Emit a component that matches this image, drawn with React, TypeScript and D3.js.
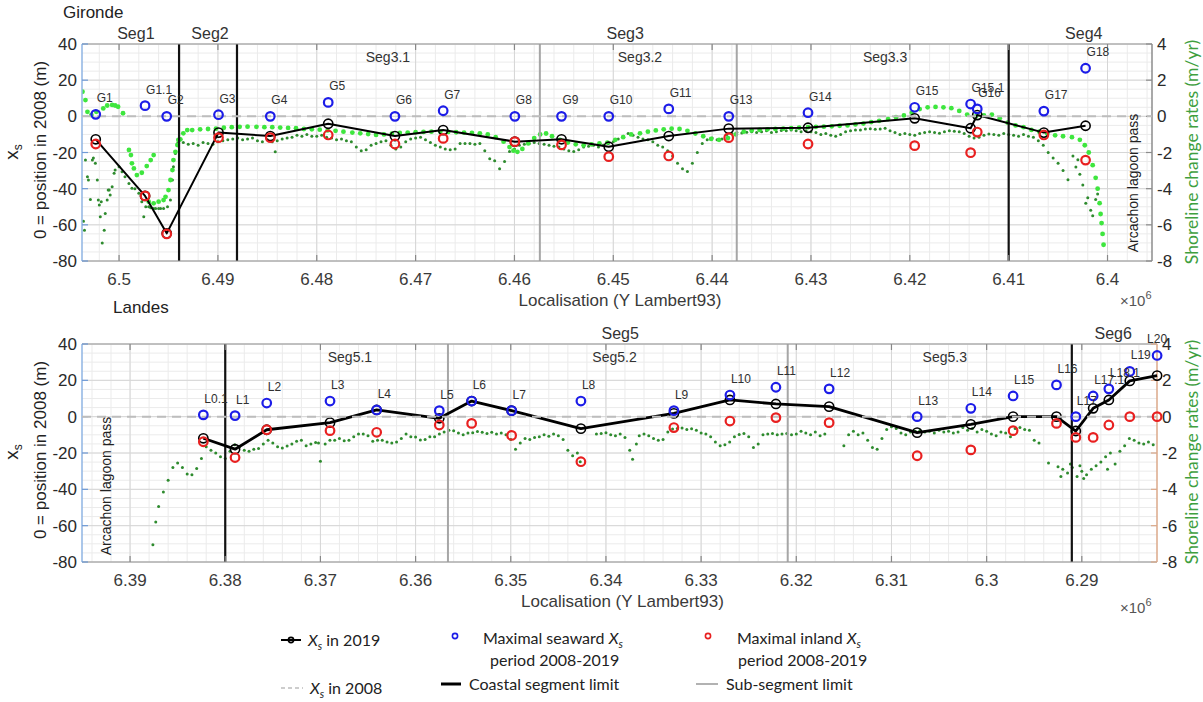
import React from "react";
import * as d3 from "d3";

type Pt = [number, number];

// ---------- Gironde (top panel) ----------
const gNames = ["G1","G1.1","G2","G3","G4","G5","G6","G7","G8","G9","G10","G11","G13","G14","G15","G15.1","G16","G17","G18"];
const gPos = [6502.36,6497.37,6495.18,6489.94,6484.70,6478.84,6472.09,6467.21,6459.96,6455.24,6450.46,6444.39,6438.32,6430.30,6419.51,6413.85,6413.18,6406.44,6402.22];
const gXs2019 = [-12.7,-44,-64.7,-9.0,-10.9,-4.1,-10.9,-7.6,-14,-12.7,-16.8,-10.9,-6.8,-6.3,-1.1,-6.6,0.7,-9.0,-5.2];
const gSeaward = [1.1,5.9,0,0.9,0,7.7,0,3.1,0,0,0,4.1,0,2.0,5.0,6.8,4.1,2.9,26.6];
const gInland = [-15.3,-44,-65,-11.8,-11.8,-10.3,-15.3,-12.2,-14,-15.8,-22.3,-21.9,-11.8,-15.3,-16.2,-20.1,-8.7,-10.3,-24.2];
const gSegLimits = [6493.93, 6488.07, 6410.0];
const gSubLimits = [6457.43, 6437.51];
const gSegLabels = ["Seg1","Seg2","Seg3","Seg4"];
const gSegLabelPos = [6498.3, 6490.8, 6448.8, 6402.4];
const gSubLabels = ["Seg3.1","Seg3.2","Seg3.3"];
const gSubLabelPos = [6472.8, 6447.3, 6422.5];
const gTicks = [6500,6490,6480,6470,6460,6450,6440,6430,6420,6410,6400];

// light green (smoothed rates, m/yr) [Y km, rate]
const gRateSmooth: Pt[] = [
[6503.7,1.36],[6503.4,0.9],[6503.2,0.25],[6502.8,0.07],[6502.3,0.25],[6501.6,0.44],[6501.2,0.6],[6500.7,0.63],[6500.4,0.6],[6500.1,0.53],[6499.6,0.17],
[6499.0,-1.86],[6498.8,-2.14],[6498.7,-2.6],[6498.5,-2.88],[6498.2,-3.25],[6497.7,-3.12],[6497.2,-2.75],[6496.8,-2.42],[6496.5,-2.14],
[6497.0,-4.72],[6496.5,-4.81],[6496.0,-4.72],[6495.5,-4.63],[6495.3,-4.45],[6495.0,-4.08],[6494.8,-3.52],[6494.6,-2.97],[6494.5,-2.42],[6494.3,-1.96],[6494.1,-1.59],[6494.0,-1.31],[6493.8,-1.27],[6493.5,-0.94],[6493.1,-0.76],
[6492.6,-0.76],[6491.8,-0.72],[6491.0,-0.7],[6490.2,-0.68],[6489.4,-0.63],[6488.6,-0.6],[6487.8,-0.58],[6487.0,-0.57],[6486.1,-0.58],[6485.3,-0.6],[6484.5,-0.6],[6483.7,-0.62],[6482.9,-0.64],[6482.1,-0.66],[6481.3,-0.7],[6480.5,-0.72],[6479.7,-0.74],[6478.9,-0.78],[6478.1,-0.8],[6477.3,-0.85],[6476.4,-0.9],[6475.6,-0.94],[6474.8,-0.98],[6474.0,-1.03],[6473.2,-1.0],[6472.4,-0.96],[6471.6,-0.92],[6470.8,-0.9],[6470.0,-0.88],[6469.2,-0.86],[6468.4,-0.85],[6467.5,-0.85],[6466.7,-0.86],[6465.9,-0.88],[6465.1,-0.9],[6464.3,-0.92],[6463.5,-0.94],[6462.7,-1.0],[6461.9,-1.15],[6461.1,-1.4],[6460.5,-1.7],[6460.1,-1.9],[6459.7,-1.96],[6459.2,-1.8],[6458.6,-1.5],[6458.0,-1.2],[6457.4,-1.0],[6456.8,-0.95],[6456.2,-1.1],[6455.4,-1.3],[6454.6,-1.45],[6453.8,-1.55],[6453.0,-1.6],[6452.2,-1.55],[6451.4,-1.5],[6450.6,-1.45],[6449.8,-1.3],[6449.0,-1.15],[6448.2,-1.0],[6447.3,-0.94],[6446.5,-0.85],[6445.7,-0.78],[6444.9,-0.72],[6444.1,-0.68],[6443.3,-0.7],[6442.5,-0.8],[6441.7,-0.95],[6440.9,-1.1],[6440.1,-1.25],[6439.3,-1.3],[6438.4,-1.2],[6437.6,-1.0],[6436.8,-0.85],[6436.0,-0.78],[6435.2,-0.75],[6434.4,-0.72],[6433.6,-0.7],[6432.8,-0.68],[6432.0,-0.66],[6431.2,-0.63],[6430.3,-0.6],[6429.5,-0.58],[6428.7,-0.57],[6427.9,-0.55],[6427.1,-0.52],[6426.3,-0.5],[6425.5,-0.45],[6424.7,-0.4],[6423.9,-0.32],[6423.1,-0.25],[6422.2,-0.15],[6421.4,-0.05],[6420.6,0.05],[6419.8,0.2],[6419.0,0.4],[6418.2,0.5],[6417.4,0.52],[6416.6,0.5],[6415.8,0.45],[6415.0,0.3],[6414.2,0.1],[6413.3,0.0],[6412.5,0.05],[6411.7,0.1],[6410.9,-0.1],[6410.1,-0.35],[6409.3,-0.5],[6408.5,-0.6],[6407.7,-0.75],[6406.9,-0.85],[6406.1,-0.95],[6405.3,-1.05],[6404.5,-1.1],[6403.6,-1.15],[6402.8,-1.3],[6402.3,-1.6],[6401.9,-2.0],[6401.5,-2.7],[6401.2,-3.4],[6401.0,-4.0],[6400.8,-4.8],[6400.7,-5.4],[6400.6,-5.9],[6400.5,-6.5],[6400.4,-7.1]
];

// dark green (rates, m/yr) [Y km, rate]
const gRate: Pt[] = [
[6503.6,-5.8],[6503.5,-6.3],[6503.4,-2.42],[6503.2,-3.34],[6503.1,-3.52],[6502.9,-4.6],[6502.7,-2.42],[6502.6,-2.3],[6502.4,-2.6],[6502.2,-3.52],[6502.1,-4.63],[6502.0,-4.9],[6501.9,-5.55],[6501.8,-4.72],[6501.7,-7.0],[6501.5,-6.3],[6501.4,-5.37],[6501.2,-4.63],[6501.1,-4.08],[6501.0,-4.08],[6500.9,-4.35],[6500.7,-3.9],[6500.5,-3.15],[6500.4,-2.97],[6500.0,-2.79],[6499.7,-3.06],[6499.4,-3.34],[6499.0,-3.71],[6498.7,-3.98],[6498.4,-4.0],[6498.0,-4.26],[6497.7,-4.72],[6497.5,-5.55],[6497.3,-5.0],[6497.0,-5.0],[6496.8,-5.05],[6496.5,-5.09],[6496.3,-5.1],[6496.0,-5.09],[6495.8,-5.1],[6495.5,-5.09],[6495.1,-5.0],[6494.8,-4.63],[6494.6,-3.52],[6494.5,-2.79],[6494.3,-2.05],[6494.1,-1.5],[6494.0,-1.4],
[6493.5,-1.45],[6493.0,-1.55],[6492.5,-1.5],[6492.0,-1.6],[6491.5,-1.45],[6491.0,-1.5],[6490.5,-1.55],[6490.0,-1.4],
[6489.5,-1.35],[6489.0,-1.3],[6488.5,-1.25],[6488.0,-1.2],[6487.5,-1.3],[6487.0,-1.25],[6486.5,-1.2],[6486.0,-1.35],[6485.5,-1.4],[6485.0,-1.3],
[6484.5,-1.4],[6484.2,-1.96],[6484.0,-1.35],[6483.5,-1.25],[6483.0,-1.2],[6482.5,-1.15],[6482.0,-1.05],[6481.5,-1.1],[6481.0,-1.0],[6480.5,-1.1],
[6480.0,-1.1],[6479.5,-1.05],[6479.0,-1.15],[6478.5,-1.2],[6478.0,-1.3],[6477.5,-1.25],[6477.0,-1.35],[6476.5,-1.4],[6476.0,-1.7],[6475.5,-1.9],
[6475.0,-1.85],[6474.5,-1.6],[6474.0,-1.5],[6473.5,-1.4],[6473.0,-1.35],[6472.5,-1.6],[6472.0,-1.8],[6471.5,-1.7],[6471.0,-1.4],[6470.5,-1.25],
[6470.0,-1.2],[6469.5,-1.15],[6469.0,-1.3],[6468.5,-1.45],[6468.0,-1.6],[6467.5,-1.7],[6467.0,-1.8],[6466.5,-1.85],[6466.0,-1.8],[6465.5,-1.5],
[6465.0,-1.5],[6464.5,-1.5],[6464.0,-1.55],[6463.5,-1.5],[6463.0,-1.9],[6462.5,-2.35],[6462.0,-2.45],[6461.5,-2.9],[6461.0,-2.5],[6460.5,-1.95],
[6460.0,-1.8],[6459.5,-1.6],[6459.0,-1.55],[6458.5,-1.5],[6458.0,-1.45],[6457.5,-1.5],[6457.0,-1.55],[6456.5,-1.6],[6456.0,-1.65],[6455.5,-1.7],
[6455.0,-1.8],[6454.5,-1.9],[6454.0,-1.95],[6453.5,-1.85],[6453.0,-1.7],[6452.5,-1.65],[6452.0,-1.6],[6451.5,-1.7],[6451.0,-1.6],[6450.5,-1.5],
[6450.0,-1.4],[6449.5,-1.25],[6449.0,-1.1],[6448.5,-0.95],[6448.0,-1.05],[6447.5,-1.15],[6447.0,-1.25],[6446.5,-1.3],[6446.0,-1.4],[6445.5,-1.6],
[6445.0,-1.7],[6444.5,-1.9],[6444.0,-2.2],[6443.5,-2.6],[6443.0,-2.9],[6442.5,-3.05],[6442.0,-2.6],[6441.5,-2.0],[6441.0,-1.5],[6440.5,-1.3],
[6440.0,-1.2],[6439.5,-1.3],[6439.0,-1.25],[6438.5,-1.0],[6438.0,-0.95],[6437.5,-0.9],[6437.0,-0.92],[6436.5,-0.88],[6436.0,-0.85],[6435.5,-0.9],
[6435.0,-0.85],[6434.5,-0.8],[6434.0,-0.9],[6433.5,-0.85],[6433.0,-0.78],[6432.5,-0.8],[6432.0,-0.75],[6431.5,-0.8],[6431.0,-0.85],[6430.5,-0.8],
[6430.0,-0.85],[6429.5,-0.9],[6429.0,-1.0],[6428.5,-0.95],[6428.0,-1.05],[6427.5,-1.1],[6427.0,-1.0],[6426.5,-0.85],[6426.0,-0.8],[6425.5,-0.75],
[6425.0,-0.75],[6424.5,-0.7],[6424.0,-0.68],[6423.5,-0.72],[6423.0,-0.7],[6422.5,-0.66],[6422.0,-0.8],[6421.5,-0.9],[6421.0,-1.0],[6420.5,-0.95],
[6420.0,-1.0],[6419.5,-1.05],[6419.0,-0.95],[6418.5,-0.9],[6418.0,-0.85],[6417.5,-0.9],[6417.0,-0.94],[6416.5,-0.85],[6416.0,-0.8],[6415.5,-0.82],
[6415.0,-0.85],[6414.5,-0.95],[6414.0,-1.1],[6413.5,-1.2],[6413.0,-1.15],[6412.5,-1.05],[6412.0,-0.98],[6411.5,-1.0],[6411.0,-1.05],[6410.5,-0.95],
[6410.0,-1.0],[6409.5,-1.05],[6409.0,-1.1],[6408.5,-1.0],[6408.0,-1.1],[6407.5,-1.15],[6407.0,-1.35],[6406.5,-1.6],[6406.0,-2.0],[6405.5,-2.3],
[6405.0,-2.6],[6404.5,-3.0],[6404.0,-3.5],[6403.5,-2.2],[6403.0,-2.4],[6402.5,-3.8],[6402.0,-4.5],[6401.5,-5.5],[6401.2,-4.6],[6401.0,-4.3],[6403.2,-2.8],[6402.8,-3.2],[6402.2,-4.8],[6401.7,-5.2]
];

// ---------- Landes (bottom panel) ----------
const lNames = ["L0.1","L1","L2","L3","L4","L5","L6","L7","L8","L9","L10","L11","L12","L13","L14","L15","L16","L17","L17.1","L18.1","L19","L20"];
const lPos = [6382.30,6378.97,6375.64,6368.99,6364.09,6357.51,6354.11,6349.91,6342.63,6332.86,6326.97,6322.14,6316.55,6307.30,6301.66,6297.22,6292.66,6290.63,6288.81,6287.16,6284.96,6282.09];
const lXs2019 = [-11.9,-17.9,-7.2,-3.3,3.7,-0.9,8.6,3.3,-6.6,1.8,9.2,7.0,5.5,-8.8,-4.2,0,0,-7.9,4.6,9.2,19.7,22.6];
const lSeaward = [1,0.6,7.5,8.6,3.7,3.3,8.6,3.3,8.6,3.3,11.9,16.2,15.3,0,4.6,11.4,17.5,0,11.4,15.3,24.9,33.7];
const lInland = [-13.8,-22.5,-7.2,-7.7,-8.6,-4.6,-3.7,-10.3,-24.8,-6.0,-2.4,-0.5,-3.3,-21.5,-18.3,-7.7,-3.7,-11.4,-11.4,-4.6,0,0];
const lSegLimits = [6380.0, 6291.05];
const lSubLimits = [6356.6, 6320.9];
const lSegLabels = ["Seg5","Seg6"];
const lSegLabelPos = [6338.5, 6286.7];
const lSubLabels = ["Seg5.1","Seg5.2","Seg5.3"];
const lSubLabelPos = [6366.9, 6339.1, 6304.4];
const lTicks = [6390,6380,6370,6360,6350,6340,6330,6320,6310,6300,6290];

const lRate: Pt[] = [
[6387.6,-7.05],[6387.3,-5.8],[6387.0,-4.95],[6386.5,-4.15],[6386.0,-3.5],[6385.5,-2.8],[6385.0,-2.55],[6384.5,-2.8],[6384.0,-3.15],[6383.5,-3.2],[6383.0,-2.85],[6382.5,-2.3],[6382.0,-1.65],[6381.5,-1.85],[6381.0,-2.0],[6380.5,-2.2],[6380.0,-2.3],[6379.5,-1.9],[6379.0,-1.55],[6378.5,-1.65],[6378.0,-1.85],[6377.5,-1.9],[6377.0,-1.8],[6376.5,-1.75],[6376.0,-1.5],[6375.5,-1.3],[6375.0,-1.45],[6374.5,-1.65],[6374.0,-1.72],[6373.5,-1.62],[6373.0,-1.5],[6372.5,-1.35],[6372.0,-1.3],[6371.5,-1.6],[6371.0,-1.5],[6370.5,-1.42],[6370.2,-1.45],[6370.0,-2.45],[6369.5,-1.5],[6369.0,-1.3],[6368.5,-1.3],[6368.0,-1.2],[6367.5,-1.32],[6367.0,-1.3],[6366.5,-1.1],[6366.0,-0.95],[6365.5,-0.95],[6365.0,-1.05],[6364.5,-1.35],[6364.0,-1.3],[6363.5,-1.3],[6363.0,-1.4],[6362.5,-1.45],[6362.0,-1.4],[6361.5,-1.2],[6361.0,-0.95],[6360.5,-1.1],[6360.0,-1.12],[6359.5,-1.28],[6359.0,-1.25],[6358.5,-1.1],[6358.0,-1.1],[6357.5,-0.95],[6357.0,-0.85],[6356.5,-0.75],[6356.0,-0.78],[6355.5,-0.9],[6355.0,-1.0],[6354.5,-0.9],[6354.0,-0.88],[6353.5,-0.82],[6353.0,-0.86],[6352.5,-0.92],[6352.0,-0.86],[6351.5,-0.95],[6351.0,-0.9],[6350.5,-1.0],[6350.0,-1.25],[6349.5,-1.8],[6349.0,-1.45],[6348.5,-1.2],[6348.0,-1.25],[6347.5,-1.15],[6347.0,-1.1],[6346.5,-1.0],[6346.0,-1.08],[6345.5,-0.95],[6345.0,-1.05],[6344.5,-1.25],[6344.0,-1.85],[6343.5,-2.15],[6343.0,-2.0],[6342.7,-2.48],
[6341.0,-0.95],[6340.5,-0.92],[6340.0,-0.88],[6339.5,-1.0],[6339.0,-1.05],[6338.5,-0.95],[6338.0,-1.15],[6337.5,-1.85],[6337.2,-2.35],[6336.8,-1.5],[6336.5,-1.05],[6336.0,-0.95],[6335.5,-1.05],[6335.0,-1.2],[6334.5,-1.3],[6334.0,-1.25],[6333.5,-0.85],[6333.0,-0.68],[6332.5,-0.65],[6332.0,-0.62],[6331.5,-0.7],[6331.0,-0.66],[6330.5,-0.75],[6330.0,-0.9],[6329.5,-0.95],[6329.0,-1.1],[6328.5,-1.4],[6328.0,-1.6],[6327.5,-1.55],[6327.0,-1.4],[6326.5,-1.1],[6326.0,-0.98],[6325.5,-0.92],[6325.0,-1.1],[6324.5,-1.7],[6324.0,-1.5],[6323.5,-1.0],[6323.0,-0.95],[6322.5,-0.92],[6322.0,-1.0],[6321.5,-0.96],[6321.0,-0.92],[6320.5,-1.0],[6320.0,-0.95],
[6319.5,-0.8],[6319.0,-0.9],[6318.5,-1.0],[6318.0,-0.85],[6317.5,-1.05],[6317.0,-0.95],[6315.0,-1.6],[6314.5,-1.0],[6314.0,-0.8],[6313.5,-1.0],[6313.0,-0.9],[6312.5,-1.3],[6312.0,-1.7],[6311.5,-1.8],[6311.0,-1.2],[6310.5,-0.7],[6310.0,-0.55],[6309.5,-0.65],[6309.0,-0.9],[6308.5,-1.0],[6308.0,-0.85],[6307.5,-0.8],[6307.0,-0.75],[6306.5,-0.85],[6306.0,-0.8],[6305.5,-0.9],[6305.0,-0.75],[6304.5,-0.85],[6304.0,-0.8],[6303.5,-0.9],[6303.0,-0.85],[6302.5,-0.6],[6302.0,-0.75],[6301.5,-0.65],[6301.0,-0.85],[6300.5,-0.7],[6300.0,-0.8],[6299.5,-0.95],[6299.0,-1.05],[6298.5,-0.85],[6298.0,-0.9],[6297.5,-1.1],[6297.0,-0.65],[6296.5,-0.6],[6296.0,-0.7],[6295.5,-0.75],[6295.0,-1.3],[6294.5,-1.45],[6293.5,-2.55],[6292.5,-2.75],[6292.2,-3.3],[6292.0,-2.9],[6291.5,-3.1],[6291.2,-2.6],[6291.0,-2.8],[6290.5,-3.3],[6290.2,-2.7],[6290.0,-3.0],[6289.8,-3.4],[6289.5,-3.2],[6289.0,-2.9],[6288.5,-2.7],[6288.0,-2.5],[6287.5,-2.2],[6287.3,-2.9],[6287.0,-2.0],[6286.5,-2.6],[6286.0,-1.9],[6285.5,-1.6],[6285.0,-1.2],[6284.5,-1.3],[6284.0,-1.45],[6283.5,-1.5],[6283.0,-1.4],[6282.5,-1.55]
];

const FA = "'Liberation Sans', Arial, Helvetica, sans-serif";
const FL = "Lato, 'Open Sans', sans-serif";
const GREEN_LABEL = "#3f9f3f";

interface PanelProps {
  id: string;
  left: number; right: number; top: number; bottom: number;
  domain: [number, number]; xTicks: number[];
  names: string[]; pos: number[]; xs2019: number[]; seaward: number[]; inland: number[];
  segLimits: number[]; subLimits: number[];
  segLabels: string[]; segLabelPos: number[]; subLabels: string[]; subLabelPos: number[];
  rateDark: Pt[]; rateLight?: Pt[];
  title: string; titleX: number; titleY: number;
  arcX: number; arcY: number;
  rightColor: string; lineW: number; x10Y: number;
}

function Panel(p: PanelProps) {
  const x = d3.scaleLinear().domain(p.domain).range([p.left, p.right]);
  const yL = d3.scaleLinear().domain([-80, 40]).range([p.bottom, p.top]);
  const yR = d3.scaleLinear().domain([-8, 4]).range([p.bottom, p.top]);
  const lo = Math.min(p.domain[0], p.domain[1]);
  const hi = Math.max(p.domain[0], p.domain[1]);
  const minorX = d3.range(Math.ceil(lo / 2) * 2, hi, 2);
  const minorY = d3.range(-80, 40.1, 5);
  const majorY = d3.range(-80, 40.1, 20);
  const rTicks = d3.range(-8, 4.1, 2);
  const line = d3.line<number>().x((_d, i) => x(p.pos[i])).y((d) => yL(d));
  const w = p.right - p.left, h = p.bottom - p.top;
  const fmt = (v: number) => String(+(v / 1000).toFixed(2));
  const last = p.names.length - 1;
  return (
    <g>
      <defs>
        <clipPath id={p.id}><rect x={p.left} y={p.top} width={w} height={h} /></clipPath>
      </defs>
      <rect x={p.left} y={p.top} width={w} height={h} fill="#fff" />
      {minorX.map((v) => <line key={"mx" + v} x1={x(v)} x2={x(v)} y1={p.top} y2={p.bottom} stroke="#ebebeb" strokeWidth={1} />)}
      {minorY.map((v) => <line key={"my" + v} x1={p.left} x2={p.right} y1={yL(v)} y2={yL(v)} stroke="#ebebeb" strokeWidth={1} />)}
      {p.xTicks.map((v) => <line key={"Mx" + v} x1={x(v)} x2={x(v)} y1={p.top} y2={p.bottom} stroke="#d6d6d6" strokeWidth={1} />)}
      {majorY.map((v) => <line key={"My" + v} x1={p.left} x2={p.right} y1={yL(v)} y2={yL(v)} stroke="#d6d6d6" strokeWidth={1} />)}
      <g clipPath={`url(#${p.id})`}>
        {p.rateDark.map((d, i) => <circle key={"d" + i} cx={x(d[0])} cy={yR(d[1])} r={1.5} fill="#2e8b2e" />)}
        {(p.rateLight || []).map((d, i) => <circle key={"l" + i} cx={x(d[0])} cy={yR(d[1])} r={2.4} fill="#3ee63e" />)}
      </g>
      {p.subLimits.map((v) => <line key={"s" + v} x1={x(v)} x2={x(v)} y1={p.top} y2={p.bottom} stroke="#a6a6a6" strokeWidth={2} />)}
      {p.segLimits.map((v) => <line key={"S" + v} x1={x(v)} x2={x(v)} y1={p.top} y2={p.bottom} stroke="#111" strokeWidth={2.2} />)}
      <line x1={p.left} x2={p.right} y1={p.top} y2={p.top} stroke="#9a9a9a" strokeWidth={1.2} />
      <line x1={p.left} x2={p.right} y1={p.bottom} y2={p.bottom} stroke="#9a9a9a" strokeWidth={1.2} />
      <line x1={p.left} x2={p.left} y1={p.top} y2={p.bottom} stroke="#8fb4e3" strokeWidth={1.5} />
      <line x1={p.right} x2={p.right} y1={p.top} y2={p.bottom} stroke={p.rightColor} strokeWidth={1.5} />
      {p.xTicks.map((v) => (
        <g key={"xt" + v}>
          <line x1={x(v)} x2={x(v)} y1={p.bottom} y2={p.bottom - 6} stroke="#888" strokeWidth={1.2} />
          <line x1={x(v)} x2={x(v)} y1={p.top} y2={p.top + 6} stroke="#888" strokeWidth={1.2} />
          <text x={x(v)} y={p.bottom + 24} textAnchor="middle" fontFamily={FA} fontSize={17} fill="#3a3a3a">{fmt(v)}</text>
        </g>
      ))}
      {majorY.map((v) => (
        <g key={"yt" + v}>
          <line x1={p.left} x2={p.left + 6} y1={yL(v)} y2={yL(v)} stroke="#6e9ad6" strokeWidth={1.2} />
          <text x={p.left - 5} y={yL(v)} dy="0.36em" textAnchor="end" fontFamily={FA} fontSize={17} fill="#2a2a2a">{v}</text>
        </g>
      ))}
      {rTicks.map((v) => (
        <g key={"rt" + v}>
          <line x1={p.right - 6} x2={p.right} y1={yR(v)} y2={yR(v)} stroke={p.rightColor} strokeWidth={1.2} />
          <text x={p.right + 5} y={yR(v)} dy="0.36em" textAnchor="start" fontFamily={FA} fontSize={17} fill="#2a2a2a">{v}</text>
        </g>
      ))}
      <path d={line(p.xs2019) || ""} fill="none" stroke="#000" strokeWidth={p.lineW} strokeLinejoin="round" />
      {p.xs2019.map((v, i) => <circle key={"k" + i} cx={x(p.pos[i])} cy={yL(v)} r={4.6} fill="none" stroke="#000" strokeWidth={1.6} />)}
      <line x1={p.left} x2={p.right} y1={yL(0)} y2={yL(0)} stroke="#bdbdbd" strokeWidth={2} strokeDasharray="9,6" />
      {p.seaward.map((v, i) => <circle key={"b" + i} cx={x(p.pos[i])} cy={yL(v)} r={4.3} fill="none" stroke="#1c1ce8" strokeWidth={2.2} />)}
      {p.inland.map((v, i) => <circle key={"r" + i} cx={x(p.pos[i])} cy={yL(v)} r={4.3} fill="none" stroke="#e82020" strokeWidth={2.2} />)}
      {p.names.map((n, i) => (
        <text key={"n" + n} x={x(p.pos[i]) + (i === last && p.pos[i] < lo + 1 ? 0 : 1)} y={yL(p.seaward[i]) - 12}
          textAnchor={i === last && p.pos[i] < lo + 1 ? "middle" : "start"} fontFamily={FA} fontSize={12} fill="#303030">{n}</text>
      ))}
      {p.segLabels.map((s, i) => (
        <text key={s} x={x(p.segLabelPos[i])} y={p.top - 5} textAnchor="middle" fontFamily={FA} fontSize={16} fill="#333">{s}</text>
      ))}
      {p.subLabels.map((s, i) => (
        <text key={s} x={x(p.subLabelPos[i])} y={p.top + 18} textAnchor="middle" fontFamily={FA} fontSize={14} fill="#333">{s}</text>
      ))}
      <text transform={`translate(${p.arcX},${p.arcY}) rotate(-90)`} textAnchor="middle" fontFamily={FA} fontSize={14} fill="#222">Arcachon lagoon pass</text>
      <text x={(p.left + p.right) / 2 + 3} y={p.bottom + 45} textAnchor="middle" fontFamily={FA} fontSize={17} fill="#3a3a3a">Localisation (Y Lambert93)</text>
      <text x={1120} y={p.x10Y} fontFamily={FA} fontSize={15} fill="#555">×10<tspan dy={-7} fontSize={11}>6</tspan></text>
      <text transform={`translate(18,${p.top + 108}) rotate(-90)`} textAnchor="middle" fontFamily={FA} fontSize={19} fill="#222">x<tspan fontSize={12} dy={4}>s</tspan></text>
      <text transform={`translate(46,${p.top + 106}) rotate(-90)`} textAnchor="middle" fontFamily={FA} fontSize={17} fill="#222">0 = position in 2008 (m)</text>
      <text transform={`translate(1198,${p.top + 108}) rotate(-90)`} textAnchor="middle" fontFamily={FL} fontSize={17.5} fill={GREEN_LABEL}>Shoreline change rates (m/yr)</text>
      <text x={p.titleX} y={p.titleY} fontFamily={FA} fontSize={17} fill="#222">{p.title}</text>
    </g>
  );
}

function Legend() {
  const t = { fontFamily: FL, fontSize: 16, fill: "#222" } as const;
  return (
    <g>
      <line x1={281} x2={301} y1={640} y2={640} stroke="#000" strokeWidth={2} />
      <circle cx={291} cy={640} r={2.6} fill="none" stroke="#000" strokeWidth={1.6} />
      <text x={308} y={646} {...t}><tspan fontStyle="italic">X</tspan><tspan fontStyle="italic" fontSize={11} dy={4}>s</tspan><tspan dy={-4}> in 2019</tspan></text>
      <circle cx={455} cy={636} r={2.6} fill="none" stroke="#1c1ce8" strokeWidth={1.6} />
      <text x={483} y={644} {...t}>Maximal seaward <tspan fontStyle="italic">X</tspan><tspan fontStyle="italic" fontSize={11} dy={4}>s</tspan></text>
      <text x={490} y={666} {...t}>period 2008-2019</text>
      <circle cx={708} cy={636} r={2.6} fill="none" stroke="#e82020" strokeWidth={1.6} />
      <text x={737} y={644} {...t}>Maximal inland <tspan fontStyle="italic">X</tspan><tspan fontStyle="italic" fontSize={11} dy={4}>s</tspan></text>
      <text x={738} y={666} {...t}>period 2008-2019</text>
      <line x1={281} x2={303} y1={688} y2={688} stroke="#bdbdbd" strokeWidth={1.5} strokeDasharray="4,3" />
      <text x={310} y={694} {...t}><tspan fontStyle="italic">X</tspan><tspan fontStyle="italic" fontSize={11} dy={4}>s</tspan><tspan dy={-4}> in 2008</tspan></text>
      <line x1={441} x2={461} y1={684} y2={684} stroke="#000" strokeWidth={3} />
      <text x={469} y={690} {...t}>Coastal segment limit</text>
      <line x1={696} x2={718} y1={684} y2={684} stroke="#999" strokeWidth={1.5} />
      <text x={726} y={690} {...t}>Sub-segment limit</text>
    </g>
  );
}

export default function App() {
  return (
    <svg width={1203} height={702} viewBox="0 0 1203 702" style={{ position: "absolute", left: 0, top: 0, background: "#fff" }}>
      <rect width={1203} height={702} fill="#fff" />
      <Panel id="clipG" left={82} right={1152} top={44} bottom={261} domain={[6503.75, 6395.5]} xTicks={gTicks}
        names={gNames} pos={gPos} xs2019={gXs2019} seaward={gSeaward} inland={gInland}
        segLimits={gSegLimits} subLimits={gSubLimits} segLabels={gSegLabels} segLabelPos={gSegLabelPos}
        subLabels={gSubLabels} subLabelPos={gSubLabelPos} rateDark={gRate} rateLight={gRateSmooth}
        title="Gironde" titleX={63} titleY={18} arcX={1138} arcY={183} rightColor="#8c8c8c" lineW={2} x10Y={306} />
      <Panel id="clipL" left={82} right={1157} top={344} bottom={562} domain={[6395.05, 6282.1]} xTicks={lTicks}
        names={lNames} pos={lPos} xs2019={lXs2019} seaward={lSeaward} inland={lInland}
        segLimits={lSegLimits} subLimits={lSubLimits} segLabels={lSegLabels} segLabelPos={lSegLabelPos}
        subLabels={lSubLabels} subLabelPos={lSubLabelPos} rateDark={lRate}
        title="Landes" titleX={113} titleY={313} arcX={111} arcY={486} rightColor="#dba98a" lineW={2.8} x10Y={613} />
      <Legend />
    </svg>
  );
}
